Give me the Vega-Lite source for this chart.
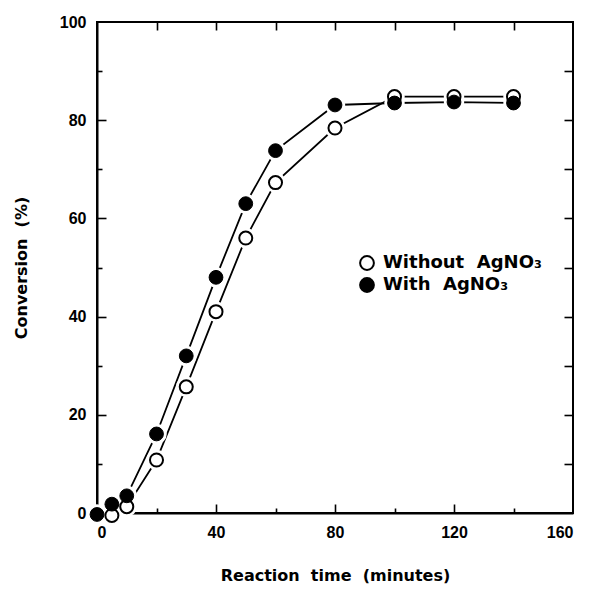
{
  "$schema": "https://vega.github.io/schema/vega-lite/v6.json",
  "autosize": "none",
  "width": 476,
  "height": 491,
  "padding": {"left": 97, "top": 22, "right": 35, "bottom": 78},
  "background": "white",
  "config": {
    "view": {"stroke": "black", "strokeWidth": 2},
    "font": "Liberation Sans",
    "axis": {
      "domainColor": "black", "domainWidth": 2, "tickColor": "black", "tickWidth": 1.6,
      "labelFont": "Liberation Sans", "labelFontWeight": "bold", "labelFontSize": 16, "labelColor": "black",
      "titleFont": "DejaVu Sans", "titleFontWeight": "bold", "titleFontSize": 16, "titleColor": "black",
      "grid": false
    },
    "legend": {
      "labelFont": "DejaVu Sans", "labelFontWeight": "bold", "labelFontSize": 18, "labelColor": "black"
    }
  },
  "data": {"values": [
    {"t": 5, "c": -0.5, "s": "Without"},
    {"t": 10, "c": 1.3, "s": "Without"},
    {"t": 20, "c": 10.8, "s": "Without"},
    {"t": 30, "c": 25.7, "s": "Without"},
    {"t": 40, "c": 41, "s": "Without"},
    {"t": 50, "c": 56, "s": "Without"},
    {"t": 60, "c": 67.3, "s": "Without"},
    {"t": 80, "c": 78.4, "s": "Without"},
    {"t": 100, "c": 84.8, "s": "Without"},
    {"t": 120, "c": 84.8, "s": "Without"},
    {"t": 140, "c": 84.8, "s": "Without"},
    {"t": 0, "c": -0.3, "s": "With"},
    {"t": 5, "c": 1.8, "s": "With"},
    {"t": 10, "c": 3.5, "s": "With"},
    {"t": 20, "c": 16.1, "s": "With"},
    {"t": 30, "c": 32, "s": "With"},
    {"t": 40, "c": 48, "s": "With"},
    {"t": 50, "c": 63, "s": "With"},
    {"t": 60, "c": 73.8, "s": "With"},
    {"t": 80, "c": 83.1, "s": "With"},
    {"t": 100, "c": 83.5, "s": "With"},
    {"t": 120, "c": 83.7, "s": "With"},
    {"t": 140, "c": 83.5, "s": "With"}
  ]},
  "resolve": {"axis": {"x": "independent", "y": "independent"}},
  "layer": [
    {
      "mark": {"type": "line", "color": "black", "strokeWidth": 1.8, "clip": false},
      "encoding": {
        "x": {"field": "t", "type": "quantitative", "scale": {"domain": [0, 160], "nice": false},
          "axis": {"orient": "bottom", "values": [0, 40, 80, 120, 160], "ticks": false, "labelPadding": 11, "title": "Reaction\u00a0\u00a0time\u00a0\u00a0(minutes)", "titlePadding": 27}},
        "y": {"field": "c", "type": "quantitative", "scale": {"domain": [0, 100], "nice": false},
          "axis": {"orient": "left", "values": [0, 20, 40, 60, 80, 100], "ticks": false, "labelPadding": 11, "title": "Conversion\u00a0\u00a0(%)", "titlePadding": 30}},
        "detail": {"field": "s"}
      }
    },
    {
      "mark": {"type": "point", "filled": true, "color": "white", "opacity": 1, "size": 420, "clip": false},
      "encoding": {
        "x": {"field": "t", "type": "quantitative",
          "axis": {"orient": "top", "offset": -491, "values": [40, 80, 120], "tickSize": 9, "labels": false, "domain": false, "title": null}},
        "y": {"field": "c", "type": "quantitative",
          "axis": {"orient": "right", "offset": -476, "values": [20, 40, 60, 80], "tickSize": 9, "labels": false, "domain": false, "title": null}}
      }
    },
    {
      "transform": [{"filter": "datum.s == 'Without'"}],
      "mark": {"type": "point", "filled": false, "shape": "circle", "stroke": "black", "strokeWidth": 2, "opacity": 1, "size": 170, "clip": false},
      "encoding": {
        "x": {"field": "t", "type": "quantitative",
          "axis": {"orient": "top", "offset": -491, "values": [20, 60, 100, 140], "tickSize": 5, "labels": false, "domain": false, "title": null}},
        "y": {"field": "c", "type": "quantitative",
          "axis": {"orient": "right", "offset": -476, "values": [10, 30, 50, 70, 90], "tickSize": 5, "labels": false, "domain": false, "title": null}},
        "fill": {"field": "s", "type": "nominal",
          "scale": {"domain": ["Without", "With"], "range": ["white", "black"]},
          "legend": {"orient": "none", "legendX": 261, "legendY": 232, "title": null, "symbolType": "circle", "symbolSize": 190, "symbolStrokeColor": "black", "symbolStrokeWidth": 2, "rowPadding": 0, "labelOffset": 7,
            "labelExpr": "datum.value == 'Without' ? 'Without\u00a0\u00a0AgNO\u2083' : 'With\u00a0\u00a0AgNO\u2083'"}}
      }
    },
    {
      "transform": [{"filter": "datum.s == 'With'"}],
      "mark": {"type": "point", "filled": true, "shape": "circle", "stroke": "black", "strokeWidth": 1, "opacity": 1, "size": 190, "clip": false},
      "encoding": {
        "x": {"field": "t", "type": "quantitative",
          "axis": {"orient": "bottom", "offset": -491, "values": [20, 40, 60, 80, 100, 120, 140], "tickSize": 8, "labels": false, "domain": false, "title": null}},
        "y": {"field": "c", "type": "quantitative",
          "axis": {"orient": "left", "offset": -476, "values": [10, 20, 30, 40, 50, 60, 70, 80, 90], "tickSize": 9, "labels": false, "domain": false, "title": null}},
        "fill": {"field": "s", "type": "nominal"}
      }
    }
  ]
}
